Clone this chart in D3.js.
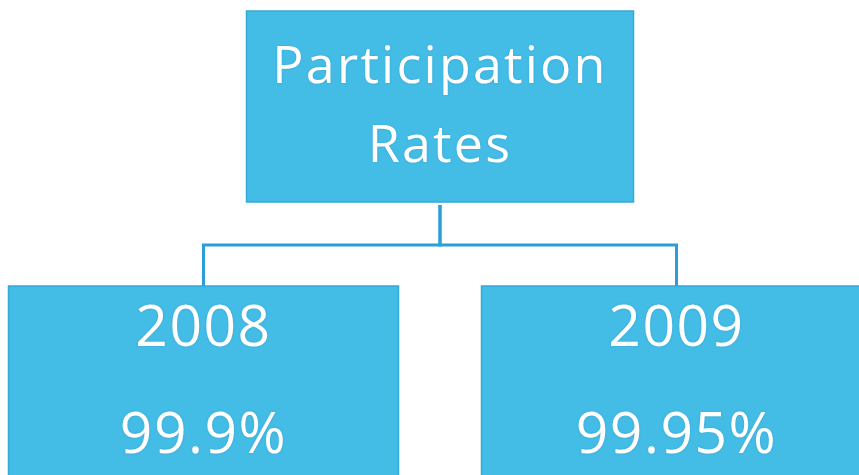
<!DOCTYPE html>
<html>
<head>
<meta charset="utf-8">
<script src="https://cdn.jsdelivr.net/npm/d3@7"></script>
<style>
  html, body { margin: 0; padding: 0; background: #ffffff; }
  svg { display: block; }
</style>
</head>
<body>
<svg id="chart" width="859" height="475"></svg>
<script>
// ---- data ----
const rootTitle = ["Participation", "Rates"];
const years = ["2008", "2009"];
const rates = ["99.9%", "99.95%"];

// ---- build hierarchy ----
const treeData = {
  lines: rootTitle,
  children: years.map((y, i) => ({ lines: [y, rates[i]] }))
};

const W = 859, H = 475;
const svg = d3.select("#chart");

const root = d3.hierarchy(treeData);
d3.tree().nodeSize([473, 1])(root);

const cx = 440;
const fill = "#43bce6";
const edge = "#35a8da";
const lineColor = "#2a9edb";

// box geometry per depth
const box = [
  { w: 387, h: 191, top: 11 },
  { w: 390, h: 210, top: 286 }
];
const X = d => cx + d.x;

// connectors (elbow)
const midY = 245;
svg.append("g")
  .selectAll("path")
  .data(root.links())
  .join("path")
  .attr("fill", "none")
  .attr("stroke", lineColor)
  .attr("stroke-width", 3)
  .attr("d", l => {
    const sy = box[0].top + box[0].h + 3;
    const ty = box[1].top;
    return `M${X(l.source)},${sy}V${midY}H${X(l.target)}V${ty}`;
  });

// boxes
const nodes = svg.append("g")
  .selectAll("g")
  .data(root.descendants())
  .join("g");

nodes.append("rect")
  .attr("x", d => X(d) - box[d.depth].w / 2)
  .attr("y", d => box[d.depth].top)
  .attr("width", d => box[d.depth].w)
  .attr("height", d => box[d.depth].h)
  .attr("fill", fill)
  .attr("stroke", edge)
  .attr("stroke-width", 1.5);

// text
const textSpec = [
  { size: 52, spacing: 2.2, baselines: [83, 162] },
  { size: 57, spacing: 1.5, baselines: [346, 453] }
];

nodes.each(function(d) {
  const spec = textSpec[d.depth];
  d3.select(this).selectAll("text")
    .data(d.data.lines)
    .join("text")
    .attr("x", X(d))
    .attr("y", (t, i) => spec.baselines[i])
    .attr("text-anchor", "middle")
    .attr("fill", "#ffffff")
    .attr("font-family", "'Open Sans', sans-serif")
    .attr("font-size", spec.size)
    .attr("letter-spacing", spec.spacing)
    .style("text-shadow", "0 0 2px rgba(40,120,170,0.35)")
    .text(t => t);
});
</script>
</body>
</html>
